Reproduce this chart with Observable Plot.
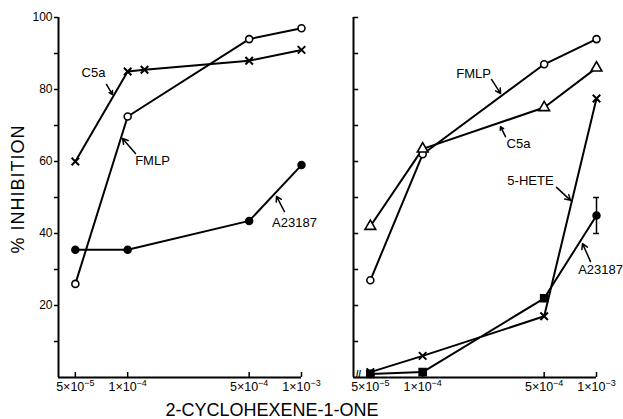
<!DOCTYPE html>
<html><head><meta charset="utf-8">
<script src="https://cdn.jsdelivr.net/npm/d3@7"></script>
<script src="https://cdn.jsdelivr.net/npm/@observablehq/plot@0.6"></script>
<style>
html,body{margin:0;padding:0;background:#fff;overflow:hidden;}
#wrap{position:relative;width:623px;height:419px;font-family:"Liberation Sans",Arial,sans-serif;color:#000;}
#left{position:absolute;left:0;top:0;}
#right{position:absolute;left:300px;top:0;}
#ylab{position:absolute;left:18px;top:189px;transform:translate(-50%,-50%) rotate(-90deg);white-space:nowrap;font-size:18px;letter-spacing:1px;line-height:18px;}
#xlab{position:absolute;left:272px;top:401px;transform:translateX(-50%);white-space:nowrap;font-size:18px;line-height:18px;}
</style>
</head><body>
<div id="wrap">
  <div id="left"></div>
  <div id="right"></div>
  <div id="ylab">% INHIBITION</div>
  <div id="xlab">2-CYCLOHEXENE-1-ONE</div>
</div>
<script>
// ---- data ----
const concentrations = [5e-5, 1e-4, 5e-4, 1e-3];
const tickMantissa = ["5", "1", "5", "1"];
const tickExponent = ["-5", "-4", "-4", "-3"];
const yTicks = [10, 20, 30, 40, 50, 60, 70, 80, 90, 100];

// left panel
const leftC5aDose = [5e-5, 1e-4, 1.25e-4, 5e-4, 1e-3];
const leftC5a = [60, 85, 85.5, 88, 91];
const leftFMLP = [26, 72.5, 94, 97];
const leftA23187 = [35.5, 35.5, 43.5, 59];

// right panel
const rightFMLP = [27, 62, 87, 94];
const rightC5a = [42, 63.5, 75, 86];
const rightHETE = [1.5, 6, 17, 77.5];
const rightA23187 = [1, 1.5, 22, 45];
const rightA23187Err = [0, 0, 0, 5];

// annotations (data coordinates)
const leftNotes = [
  {text: "C5a", x: 6.36e-5, y: 84.7, x1: 7.55e-5, y1: 81.4, x2: 8.18e-5, y2: 78.6},
  {text: "FMLP", x: 1.389e-4, y: 60.3, x1: 1.109e-4, y1: 62.2, x2: 9.34e-5, y2: 66.4},
  {text: "A23187", x: 9.11e-4, y: 43.1, x1: 7.98e-4, y1: 46.1, x2: 7.18e-4, y2: 50.3}
];
const rightNotes = [
  {text: "FMLP", x: 1.961e-4, y: 84.4, x1: 2.489e-4, y1: 82.8, x2: 2.804e-4, y2: 78.9},
  {text: "C5a", x: 3.557e-4, y: 65, x1: 2.996e-4, y1: 66.9, x2: 2.804e-4, y2: 69.7},
  {text: "5-HETE", x: 4.17e-4, y: 54.7, x1: 5.89e-4, y1: 52.8, x2: 7.09e-4, y2: 49.2},
  {text: "A23187", x: 1.055e-3, y: 30, x1: 9.24e-4, y1: 32.2, x2: 8.31e-4, y2: 37.2}
];

// ---- helpers ----
const rows = (xs, ys) => xs.map((x, i) => ({x, y: ys[i]}));
const idxOf = new Map(concentrations.map((c, i) => [c, i]));
const xMin = 4e-5;

const common = {
  height: 419, marginTop: 17, marginBottom: 42,
  x: {type: "log", domain: [xMin, 1e-3]},
  style: {fontFamily: "'Liberation Sans', Arial, sans-serif", fontSize: "12px", color: "#000", background: "transparent", overflow: "visible"}
};

function frameMarks() {
  return [
    Plot.axisX({ticks: concentrations, tickSize: 0, tickPadding: 5, tickFormat: d => tickMantissa[idxOf.get(d)] + "×10" + tickExponent[idxOf.get(d)], label: null, fontSize: 12.5}),
    Plot.ruleY([0], {strokeWidth: 2}),
    Plot.ruleX([xMin], {strokeWidth: 2}),
    // inward x tick marks
    Plot.ruleX(concentrations, {x: d => d, y1: () => 0, y2: () => 1.4, stroke: "#000", strokeWidth: 1.5})
  ];
}

function noteMarks(notes) {
  return [
    Plot.arrow(notes, {x1: "x1", y1: "y1", x2: "x2", y2: "y2", headLength: 6, strokeWidth: 1.5, stroke: "#000"}),
    Plot.text(notes, {x: "x", y: "y", text: "text", fontSize: 13, fill: "#000"})
  ];
}

// turn "5×10-5" tick texts into mantissa + raised exponent
function superscriptTicks(svg) {
  svg.querySelectorAll('g[aria-label="x-axis tick label"] text').forEach(t => {
    const s = t.textContent;
    const k = s.indexOf("×10");
    if (k < 0) return;
    const base = s.slice(0, k + 3), exp = s.slice(k + 3).replace("-", "\u2212");
    const ns = "http://www.w3.org/2000/svg";
    t.textContent = "";
    const a = document.createElementNS(ns, "tspan");
    a.textContent = base;
    const b = document.createElementNS(ns, "tspan");
    b.textContent = exp;
    b.setAttribute("dy", "-5");
    b.setAttribute("font-size", "9");
    t.append(a, b);
  });
  return svg;
}

// ---- left panel ----
const lC5a = rows(leftC5aDose, leftC5a);
const lFMLP = rows(concentrations, leftFMLP);
const lA = rows(concentrations, leftA23187);

const left = Plot.plot({
  ...common, width: 320, marginLeft: 58, marginRight: 19,
  y: {domain: [0, 100]},
  marks: [
    ...frameMarks(),
    Plot.axisY({ticks: yTicks, tickSize: 0, tickPadding: 6, tickFormat: d => d % 20 === 0 ? String(d) : "", label: null, fontSize: 12}),
    // outward y tick marks
    Plot.ruleY(yTicks, {y: d => d, x1: () => xMin / 1.055, x2: () => xMin, stroke: "#000", strokeWidth: 1.5}),
    Plot.line(lC5a, {x: "x", y: "y", stroke: "#000", strokeWidth: 2}),
    Plot.line(lFMLP, {x: "x", y: "y", stroke: "#000", strokeWidth: 2}),
    Plot.line(lA, {x: "x", y: "y", stroke: "#000", strokeWidth: 2}),
    Plot.dot(lC5a, {x: "x", y: "y", symbol: "times", r: 3.5, stroke: "#000", strokeWidth: 2}),
    Plot.dot(lFMLP, {x: "x", y: "y", symbol: "circle", r: 3.5, fill: "#fff", stroke: "#000", strokeWidth: 1.6}),
    Plot.dot(lA, {x: "x", y: "y", symbol: "circle", r: 3.5, fill: "#000", stroke: "#000"}),
    ...noteMarks(leftNotes)
  ]
});
document.getElementById("left").append(superscriptTicks(left));

// ---- right panel ----
const rFMLP = rows(concentrations, rightFMLP);
const rC5a = rows(concentrations, rightC5a);
const rHETE = rows(concentrations, rightHETE);
const rA = concentrations.map((x, i) => ({x, y: rightA23187[i], e: rightA23187Err[i]}));
const rAErr = rA.filter(d => d.e > 0);

const right = Plot.plot({
  ...common, width: 323, marginLeft: 53, marginRight: 27,
  y: {domain: [0, 100], axis: null},
  marks: [
    ...frameMarks(),
    // inward y tick marks
    Plot.ruleY(yTicks, {y: d => d, x1: () => xMin, x2: () => xMin * 1.07, stroke: "#000", strokeWidth: 1.5}),
    Plot.text(["//"], {x: 4.27e-5, y: 0, text: d => d, dy: -3, fontSize: 9, fontWeight: "bold", fill: "#000"}),
    Plot.line(rFMLP, {x: "x", y: "y", stroke: "#000", strokeWidth: 2}),
    Plot.line(rC5a, {x: "x", y: "y", stroke: "#000", strokeWidth: 2}),
    Plot.line(rHETE, {x: "x", y: "y", stroke: "#000", strokeWidth: 2}),
    Plot.line(rA, {x: "x", y: "y", stroke: "#000", strokeWidth: 2}),
    Plot.ruleX(rAErr, {x: "x", y1: d => d.y - d.e, y2: d => d.y + d.e, strokeWidth: 1.5}),
    Plot.ruleY(rAErr, {y: d => d.y - d.e, x1: d => d.x / 1.04, x2: d => d.x * 1.04, strokeWidth: 1.5}),
    Plot.ruleY(rAErr, {y: d => d.y + d.e, x1: d => d.x / 1.04, x2: d => d.x * 1.04, strokeWidth: 1.5}),
    Plot.dot(rFMLP, {x: "x", y: "y", symbol: "circle", r: 3.5, fill: "#fff", stroke: "#000", strokeWidth: 1.6}),
    Plot.dot(rC5a, {x: "x", y: "y", symbol: "triangle", r: 4, fill: "#fff", stroke: "#000", strokeWidth: 1.6}),
    Plot.dot(rHETE, {x: "x", y: "y", symbol: "times", r: 3.5, stroke: "#000", strokeWidth: 2}),
    Plot.dot(rA.slice(0, 3), {x: "x", y: "y", symbol: "square", r: 4, fill: "#000", stroke: "#000"}),
    Plot.dot(rA.slice(3), {x: "x", y: "y", symbol: "circle", r: 3.5, fill: "#000", stroke: "#000"}),
    ...noteMarks(rightNotes)
  ]
});
document.getElementById("right").append(superscriptTicks(right));
</script>
</body></html>
